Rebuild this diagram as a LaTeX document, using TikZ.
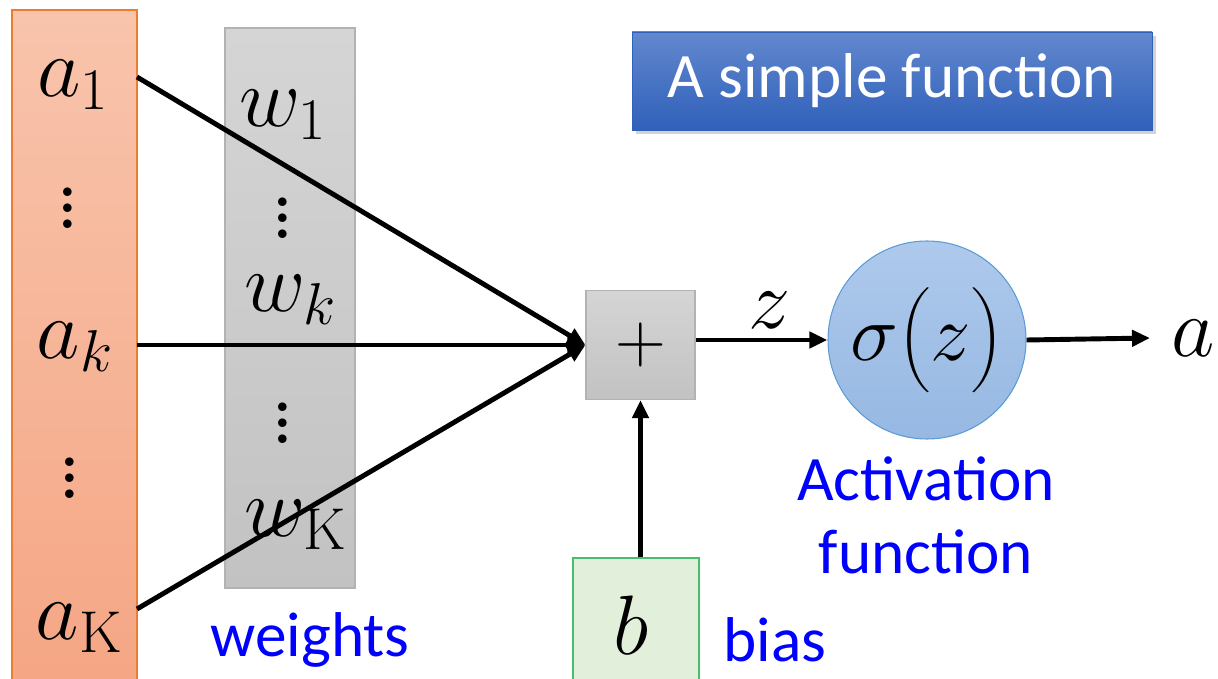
\documentclass[tikz,border=0pt]{standalone}
\usepackage{fix-cm}
\usepackage{amsmath}
\usepackage{fontspec}
\newfontfamily\calibri{Carlito}
\usepackage{tikz}
\usetikzlibrary{arrows.meta,shadows}

\definecolor{inedge}{RGB}{237,125,49}
\definecolor{intop}{RGB}{248,196,172}
\definecolor{inbot}{RGB}{245,166,132}
\definecolor{wedge}{RGB}{178,178,178}
\definecolor{wtop}{RGB}{213,213,213}
\definecolor{wbot}{RGB}{194,194,194}
\definecolor{sigedge}{RGB}{91,155,213}
\definecolor{sigtop}{RGB}{174,201,236}
\definecolor{sigbot}{RGB}{150,184,226}
\definecolor{biasedge}{RGB}{70,190,110}
\definecolor{biasfill}{RGB}{226,239,218}
\definecolor{titletop}{RGB}{98,136,206}
\definecolor{titlebot}{RGB}{48,96,186}
\definecolor{lblblue}{RGB}{0,0,255}

\begin{document}
\begin{tikzpicture}[
  >={Triangle[length=0.36cm,width=0.32cm]},
  conn/.style={->,line width=2.8pt},
  mathlbl/.style={font=\fontsize{48}{56}\selectfont,inner sep=0pt},
  dotlbl/.style={font=\fontsize{34}{9}\bfseries\selectfont,align=center,inner sep=0pt},
  bluelbl/.style={font=\calibri\fontsize{36}{41.5}\selectfont,text=lblblue,align=center,inner sep=0pt},
  colbox/.style={draw,line width=0.6pt,inner sep=0pt}
]
  \useasboundingbox (0,0) rectangle (24.36,13.56);

  %% ── input column ──
  \node[colbox,draw=inedge,top color=intop,bottom color=inbot,
        minimum width=2.5cm,minimum height=13.56cm] (incol) at (1.49,6.58) {};
  \node[mathlbl] (a1) at (1.46,11.86) {$a_1$};
  \node[dotlbl]  (ad1) at (1.36,9.40) {.\\.\\.};
  \node[mathlbl] (ak) at (1.50,6.62) {$a_k$};
  \node[dotlbl]  (ad2) at (1.40,4.00) {.\\.\\.};
  \node[mathlbl] (aK) at (1.58,1.00) {$a_{\mathrm{K}}$};

  %% ── weight column ──
  \node[colbox,draw=wedge,top color=wtop,bottom color=wbot,
        minimum width=2.6cm,minimum height=11.2cm] (wcol) at (5.8,7.4) {};
  \node[mathlbl] (w1) at (5.66,11.26) {$w_1$};
  \node[dotlbl]  (wd1) at (5.66,9.20) {.\\.\\.};
  \node[mathlbl] (wk) at (5.80,7.56) {$w_k$};
  \node[dotlbl]  (wd2) at (5.66,5.10) {.\\.\\.};
  \node[mathlbl] (wK) at (5.92,3.06) {$w_{\mathrm{K}}$};
  \node[bluelbl] (wtxt) at (6.2,0.76) {weights};

  %% ── summation, bias, activation ──
  \node[colbox,draw=wedge,top color=wtop,bottom color=wbot,
        minimum size=2.18cm,font=\fontsize{40}{48}\selectfont] (plus) at (12.81,6.66) {$+$};
  \node[colbox,draw=biasedge,fill=biasfill,
        minimum width=2.52cm,minimum height=2.6cm] (bias) at (12.72,1.1) {};
  \node[mathlbl] (b) at (12.62,1.06) {$b$};
  \node[bluelbl] (btxt) at (15.5,0.76) {bias};

  \node[circle,draw=sigedge,line width=0.6pt,top color=sigtop,bottom color=sigbot,
        minimum size=3.96cm,inner sep=0pt,font=\fontsize{46}{54}\selectfont] (sig) at (18.54,6.76) {$\sigma\bigl(z\bigr)$};
  \node[bluelbl] (acttxt) at (18.52,3.26) {Activation\\function};
  \node[mathlbl,inner xsep=0.42cm] (aout) at (23.86,6.80) {$a$};

  \node[draw=titlebot,top color=titletop,bottom color=titlebot,
        drop shadow={shadow xshift=0.08cm,shadow yshift=-0.08cm,opacity=0.35},
        minimum width=10.4cm,minimum height=1.96cm,text=white,
        font=\calibri\fontsize{36}{42}\selectfont] (title) at (17.84,11.94) {A simple function};

  %% ── connectors ──
  \coordinate (s1) at (2.74,12.02);
  \coordinate (sk) at (2.74,6.66);
  \coordinate (sK) at (2.74,1.38);
  \draw[conn] (s1) -- (plus.west);
  \draw[conn] (sk) -- (plus.west);
  \draw[conn] (sK) -- (plus.west);
  \draw[conn] (plus.east |- sig.west) -- (sig.west);
  \node[mathlbl] (zlbl) at (15.4,7.36) {$z$};
  \draw[conn] (bias.north -| plus.south) -- (plus.south);
  \draw[conn] (sig.east) -- (aout.west);
\end{tikzpicture}
\end{document}
